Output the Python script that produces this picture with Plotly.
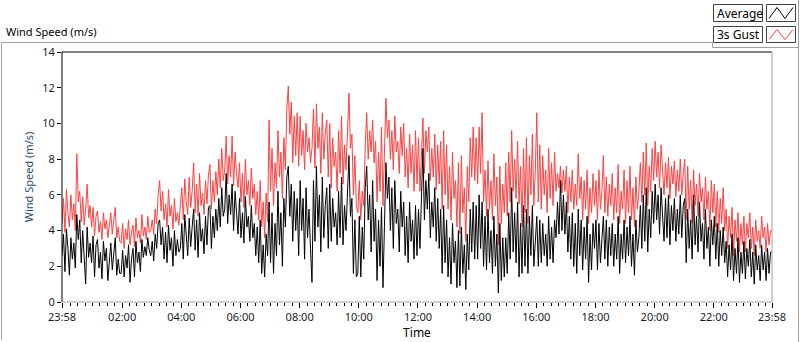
import pandas as pd
import plotly.graph_objects as go

# ---- data (3-minute samples from 23:58 to 23:58 next day) ----
start_time = "2020-01-01 23:58"
end_time = "2020-01-02 23:58"
step_minutes = 3

gust_values = [
    4.4, 5.8, 3.9, 6.3, 5.0, 4.2, 6.0, 4.6, 5.5, 4.0, 8.3, 5.6, 6.2, 4.5, 5.9, 4.3, 5.2, 6.6, 4.7, 5.4,
    4.2, 5.3, 3.7, 4.8, 5.1, 3.9, 4.5, 3.5, 5.0, 4.1, 4.6, 3.6, 4.3, 5.0, 3.8, 4.4, 5.3, 3.6, 4.2, 3.4,
    3.3, 4.4, 3.0, 4.1, 3.5, 4.6, 3.2, 3.9, 4.3, 3.1, 4.7, 3.6, 4.0, 3.3, 4.9, 3.7, 4.2, 3.5, 4.8, 3.9,
    4.0, 4.6, 3.8, 5.2, 4.4, 6.0, 6.8, 5.1, 6.2, 4.6, 5.5, 4.2, 6.3, 4.8, 5.4, 4.1, 5.8, 4.5, 5.0, 4.3,
    5.2, 6.4, 4.6, 6.9, 5.6, 4.9, 7.0, 5.3, 6.2, 7.8, 5.0, 6.6, 4.8, 7.2, 5.4, 6.1, 4.9, 6.8, 5.5, 7.1,
    7.7, 5.2, 6.8, 5.6, 7.3, 6.0, 8.0, 6.4, 8.6, 6.8, 7.4, 9.3, 6.6, 8.2, 7.0, 9.3, 6.5, 8.4, 7.2, 6.4,
    7.8, 5.6, 7.2, 5.3, 8.0, 6.0, 6.8, 5.4, 7.5, 5.8, 6.6, 4.9, 6.2, 4.6, 6.8, 4.2, 5.6, 3.6, 6.1, 4.5,
    10.2, 6.2, 8.6, 5.4, 7.8, 6.4, 9.6, 7.0, 8.4, 5.8, 9.2, 7.4, 10.8, 12.1, 9.4, 11.2, 7.8, 10.4, 8.2, 10.6,
    7.6, 10.4, 8.2, 9.6, 7.4, 10.0, 8.4, 9.2, 7.8, 8.6, 10.8, 7.5, 11.1, 8.6, 9.8, 7.2, 10.6, 8.0, 9.4, 10.2,
    7.0, 10.0, 6.4, 9.2, 7.6, 8.4, 6.2, 9.6, 7.2, 10.4, 6.6, 8.8, 7.4, 9.8, 11.7, 8.6, 9.4, 6.0, 8.2, 5.4,
    5.0, 6.8, 4.6, 6.2, 5.4, 8.8, 10.6, 8.0, 9.6, 8.4, 10.2, 7.8, 9.0, 5.6, 8.4, 6.2, 9.8, 5.4, 8.8, 11.4,
    9.2, 10.2, 8.0, 9.6, 7.4, 10.4, 8.4, 9.0, 7.2, 9.8, 8.2, 10.0, 7.0, 8.6, 6.4, 9.4, 7.2, 8.8, 6.2, 9.6,
    6.6, 9.2, 6.2, 8.8, 10.3, 7.2, 9.6, 8.4, 9.8, 6.8, 8.6, 7.0, 9.4, 6.3, 8.8, 6.6, 9.0, 5.2, 9.6, 6.0,
    8.8, 5.2, 7.6, 4.6, 8.4, 5.8, 6.8, 4.2, 7.8, 3.8, 8.2, 5.0, 6.4, 3.4, 7.6, 5.6, 9.2, 7.0, 9.8, 6.8,
    9.2, 6.6, 9.8, 7.2, 10.6, 5.6, 7.4, 4.8, 7.9, 5.2, 6.8, 4.6, 8.3, 5.4, 7.0, 3.2, 7.6, 4.4, 6.6, 5.0,
    7.8, 4.8, 8.4, 5.6, 9.6, 6.2, 8.0, 5.8, 9.0, 5.5, 7.6, 4.2, 8.6, 5.0, 9.2, 4.4, 8.2, 6.0, 9.4, 5.4,
    7.4, 10.6, 5.6, 8.8, 5.2, 8.2, 6.0, 7.4, 5.0, 8.6, 5.8, 7.8, 5.4, 8.4, 6.2, 7.2, 6.4, 7.6, 6.1, 7.4,
    6.2, 7.6, 5.0, 7.0, 5.6, 7.4, 5.2, 6.6, 5.4, 8.3, 5.8, 7.0, 4.6, 6.8, 5.2, 7.4, 4.4, 6.4, 5.0, 7.2,
    5.4, 6.8, 4.6, 7.4, 5.2, 6.2, 8.2, 5.0, 7.0, 4.8, 6.6, 5.4, 7.2, 4.6, 6.4, 5.0, 7.7, 4.4, 6.2, 5.2,
    7.4, 4.4, 6.8, 5.0, 7.6, 4.6, 6.4, 4.2, 7.0, 5.2, 6.2, 7.8, 5.6, 8.4, 6.0, 8.9, 5.4, 7.6, 6.2, 8.6,
    6.8, 9.0, 7.0, 8.4, 6.4, 8.8, 7.2, 6.0, 7.8, 6.4, 8.1, 5.8, 7.6, 6.6, 7.9, 5.9, 7.4, 6.2, 8.0, 6.0,
    7.2, 8.0, 4.6, 7.6, 5.2, 6.8, 4.4, 7.4, 5.4, 6.6, 4.8, 7.2, 5.6, 6.4, 4.6, 7.0, 5.2, 6.2, 4.0, 6.8,
    5.0, 6.6, 4.2, 6.2, 3.9, 5.8, 4.4, 6.4, 4.0, 5.2, 3.0, 4.8, 3.6, 5.3, 2.6, 4.6, 3.4, 5.0, 2.8, 4.4,
    3.2, 4.8, 2.8, 4.4, 3.6, 5.0, 3.0, 4.2, 2.6, 4.6, 3.4, 4.0, 3.0, 4.8, 3.6, 4.2, 2.8, 4.4, 3.2, 4.0,
    4.0,
]

average_values = [
    2.6, 3.8, 1.7, 4.1, 3.0, 1.5, 3.6, 2.4, 3.3, 1.9, 4.9, 3.5, 4.6, 2.2, 4.0, 2.8, 1.0, 4.2, 2.5, 3.3,
    2.2, 3.7, 1.4, 3.2, 3.5, 1.9, 2.8, 1.3, 3.4, 2.3, 3.0, 1.2, 2.6, 3.3, 1.8, 2.7, 3.6, 1.5, 2.4, 1.6,
    1.6, 2.9, 1.4, 2.6, 1.9, 3.2, 1.1, 2.4, 3.0, 1.4, 3.4, 2.2, 2.8, 1.7, 3.5, 2.5, 3.1, 2.6, 3.6, 2.9,
    2.6, 3.4, 2.3, 3.8, 3.0, 4.4, 4.6, 3.2, 4.2, 2.4, 3.9, 2.2, 4.3, 2.9, 3.6, 2.0, 4.0, 2.6, 3.5, 2.8,
    3.0, 4.4, 2.4, 4.9, 3.5, 2.6, 4.7, 3.1, 4.2, 5.2, 2.9, 4.6, 2.5, 5.0, 3.4, 4.1, 2.7, 4.8, 3.2, 5.3,
    5.4, 3.0, 4.8, 3.6, 5.2, 4.0, 5.8, 4.2, 6.4, 4.8, 5.2, 7.2, 4.4, 6.0, 4.9, 6.6, 4.0, 6.2, 5.0, 3.8,
    5.8, 3.6, 5.0, 3.3, 5.9, 4.2, 4.8, 3.4, 5.4, 3.6, 4.4, 2.6, 4.2, 2.2, 4.6, 1.6, 3.2, 1.4, 3.8, 2.6,
    5.6, 2.2, 5.0, 1.6, 4.4, 2.6, 6.2, 3.2, 5.0, 2.0, 5.8, 4.2, 7.0, 7.6, 4.8, 6.6, 3.4, 6.2, 4.0, 5.8,
    2.6, 6.8, 4.0, 5.8, 2.4, 6.4, 3.6, 5.2, 3.0, 1.1, 6.8, 3.4, 7.6, 4.2, 6.0, 2.8, 7.0, 3.6, 5.4, 6.4,
    3.0, 6.6, 3.4, 5.8, 4.2, 5.0, 3.2, 6.2, 3.6, 7.0, 3.2, 5.4, 4.0, 6.6, 8.2, 4.8, 5.8, 1.6, 4.6, 1.4,
    1.6, 4.8, 1.4, 4.2, 2.4, 6.4, 7.6, 4.6, 6.0, 2.8, 6.8, 3.4, 5.2, 1.2, 4.6, 2.0, 5.3, 0.8, 4.2, 7.8,
    5.8, 7.0, 4.0, 6.4, 3.0, 6.8, 4.4, 5.2, 2.8, 6.2, 4.2, 5.6, 2.6, 4.8, 2.2, 5.6, 3.4, 4.6, 2.4, 5.4,
    2.6, 5.2, 3.0, 5.8, 8.6, 4.6, 6.8, 5.2, 7.2, 3.6, 5.6, 4.2, 6.4, 3.4, 5.8, 3.0, 5.2, 1.6, 5.4, 2.2,
    4.6, 1.4, 3.6, 1.0, 4.4, 2.2, 3.4, 0.8, 4.0, 0.9, 4.2, 1.6, 3.2, 0.7, 3.8, 1.8, 5.2, 2.8, 5.6, 2.4,
    5.4, 2.4, 6.0, 3.0, 5.6, 2.0, 4.8, 1.8, 5.2, 2.2, 4.0, 1.6, 4.8, 2.0, 3.8, 0.5, 4.4, 1.2, 3.6, 1.4,
    3.6, 1.6, 5.0, 2.4, 6.4, 2.8, 5.0, 2.2, 5.6, 1.4, 4.4, 1.6, 5.4, 2.0, 5.2, 1.6, 4.8, 2.6, 5.4, 2.0,
    3.4, 4.8, 2.0, 4.6, 2.2, 4.4, 2.6, 3.8, 2.0, 4.8, 2.4, 4.2, 2.2, 4.6, 3.6, 5.6, 3.8, 6.8, 4.0, 6.0,
    3.8, 5.6, 2.8, 4.8, 2.4, 5.0, 2.0, 4.4, 1.6, 5.2, 2.6, 4.6, 1.8, 4.2, 2.4, 4.8, 1.1, 3.8, 1.8, 4.4,
    3.0, 4.6, 1.8, 4.4, 2.2, 3.6, 4.8, 2.4, 4.6, 2.0, 4.2, 2.6, 4.4, 2.0, 3.8, 2.4, 4.8, 1.6, 3.8, 2.4,
    4.6, 2.2, 4.2, 2.6, 4.8, 2.0, 3.8, 1.5, 4.6, 2.8, 3.6, 5.4, 3.0, 6.0, 3.4, 6.4, 2.8, 5.2, 3.6, 6.2,
    4.4, 6.6, 4.6, 6.0, 3.8, 6.4, 4.8, 3.4, 5.8, 3.6, 6.0, 3.2, 5.4, 4.0, 5.8, 3.4, 5.2, 3.8, 6.0, 3.6,
    5.4, 5.8, 2.2, 5.2, 3.0, 4.6, 2.4, 6.0, 3.2, 4.8, 2.8, 5.6, 3.4, 4.4, 2.4, 5.2, 3.0, 4.2, 2.0, 4.6,
    3.2, 4.8, 2.4, 4.4, 2.0, 4.0, 2.6, 4.2, 2.2, 3.4, 1.4, 3.2, 1.8, 3.8, 1.2, 3.0, 1.6, 3.6, 1.1, 2.8,
    1.6, 3.4, 1.3, 3.0, 2.0, 3.5, 1.4, 2.8, 1.0, 3.2, 1.8, 2.6, 1.2, 3.2, 1.8, 2.8, 1.2, 3.0, 1.6, 2.8,
    2.8,
]

tick_times = [
    "2020-01-01 23:58", "2020-01-02 02:00", "2020-01-02 04:00", "2020-01-02 06:00",
    "2020-01-02 08:00", "2020-01-02 10:00", "2020-01-02 12:00", "2020-01-02 14:00",
    "2020-01-02 16:00", "2020-01-02 18:00", "2020-01-02 20:00", "2020-01-02 22:00",
    "2020-01-02 23:58",
]
tick_labels = ["23:58", "02:00", "04:00", "06:00", "08:00", "10:00", "12:00",
               "14:00", "16:00", "18:00", "20:00", "22:00", "23:58"]
y_ticks = [0, 2, 4, 6, 8, 10, 12, 14]

times = pd.date_range(start=start_time, periods=len(gust_values), freq=f"{step_minutes}min")

# ---- layout geometry (pixels) ----
W, H = 800, 342
L, R, T, B = 62, 772, 52, 302


def fx(px):
    return (px - L) / (R - L)


def fy(py):
    return (B - py) / (B - T)


FONT = "Noto Sans"
GRAY = "#a0a0a0"

fig = go.Figure()
fig.add_trace(go.Scatter(x=times, y=gust_values, mode="lines", name="3s Gust",
                         line=dict(color="#ff4040", width=1), showlegend=False))
fig.add_trace(go.Scatter(x=times, y=average_values, mode="lines", name="Average",
                         line=dict(color="#000000", width=1), showlegend=False))

shapes = []
# plot frame: top & left black, right & bottom gray
shapes.append(dict(type="line", xref="paper", yref="paper", x0=fx(L), x1=fx(R), y0=fy(T), y1=fy(T),
                   line=dict(color="#000000", width=1)))
shapes.append(dict(type="line", xref="paper", yref="paper", x0=fx(L), x1=fx(L), y0=fy(T), y1=fy(B),
                   line=dict(color="#000000", width=1)))
shapes.append(dict(type="line", xref="paper", yref="paper", x0=fx(R), x1=fx(R), y0=fy(T), y1=fy(B),
                   line=dict(color=GRAY, width=1)))
shapes.append(dict(type="line", xref="paper", yref="paper", x0=fx(L), x1=fx(R), y0=fy(B), y1=fy(B),
                   line=dict(color=GRAY, width=1)))
# outer frame
outer = (f"M {fx(1.5)} {fy(340)} L {fx(1.5)} {fy(42.5)} L {fx(712.5)} {fy(42.5)} "
         f"L {fx(712.5)} {fy(47.5)} L {fx(798.5)} {fy(47.5)}")
shapes.append(dict(type="path", xref="paper", yref="paper", path=outer, line=dict(color=GRAY, width=1)))
shapes.append(dict(type="line", xref="paper", yref="paper", x0=fx(798.5), x1=fx(798.5), y0=fy(0), y1=fy(342),
                   line=dict(color=GRAY, width=1)))

# legend boxes
legend_items = [("Average", "#000000", 4.5, 21.5), ("3s Gust", "#ff4040", 26.5, 42.5)]
annotations = []
for name, col, y0, y1 in legend_items:
    shapes.append(dict(type="rect", xref="paper", yref="paper", x0=fx(713.5), x1=fx(762.5), y0=fy(y0), y1=fy(y1),
                       line=dict(color="#404040", width=1), fillcolor="#ffffff"))
    shapes.append(dict(type="rect", xref="paper", yref="paper", x0=fx(766.5), x1=fx(795.5), y0=fy(y0), y1=fy(y1),
                       line=dict(color="#404040", width=1), fillcolor="#ffffff"))
    zy_top, zy_bot = y0 + 3, y1 - 3
    zz = (f"M {fx(769)} {fy(zy_bot)} L {fx(777)} {fy(zy_top)} L {fx(785)} {fy(zy_bot)} "
          f"L {fx(793)} {fy(zy_top)}")
    shapes.append(dict(type="path", xref="paper", yref="paper", path=zz, line=dict(color=col, width=1)))
    annotations.append(dict(text=name, xref="paper", yref="paper", x=fx(715), y=fy((y0 + y1) / 2),
                            xanchor="left", yanchor="middle", showarrow=False,
                            font=dict(family=FONT, size=12, color="#000000")))

annotations.append(dict(text="Wind Speed (m/s)", xref="paper", yref="paper", x=fx(4), y=fy(32),
                        xanchor="left", yanchor="middle", showarrow=False,
                        font=dict(family=FONT, size=11, color="#000000")))

fig.update_layout(
    width=W, height=H,
    margin=dict(l=L, r=W - R, t=T, b=H - B, pad=0, autoexpand=False),
    paper_bgcolor="#ffffff", plot_bgcolor="#ffffff",
    font=dict(family=FONT, size=11, color="#1a1a2a"),
    shapes=shapes, annotations=annotations,
    showlegend=False,
)
fig.update_xaxes(
    type="date", automargin=False,
    range=[pd.Timestamp(start_time), pd.Timestamp(end_time)],
    tickmode="array", tickvals=[pd.Timestamp(t) for t in tick_times], ticktext=tick_labels,
    ticks="outside", ticklen=5, tickcolor="#000000", tickwidth=1,
    minor=dict(ticks="outside", ticklen=3, tickcolor="#000000", dtick=15 * 60 * 1000,
               tick0="2020-01-02 00:00", showgrid=False),
    showgrid=False, zeroline=False, showline=False,
    tickfont=dict(family=FONT, size=11, color="#1a1a2a"),
    title=dict(text="Time", font=dict(family=FONT, size=12, color="#000000"), standoff=3),
)
fig.update_yaxes(
    range=[0, 14], tickmode="array", tickvals=y_ticks, automargin=False,
    ticks="outside", ticklen=4, tickcolor="#000000", tickwidth=1,
    showgrid=False, zeroline=False, showline=False,
    tickfont=dict(family=FONT, size=11, color="#1a1a2a"),
    title=dict(text="Wind Speed (m/s)", font=dict(family=FONT, size=11, color="#2b4a6b"), standoff=6),
)

fig.write_html("out.html", config={"displayModeBar": False},
               post_script="document.body.style.margin='0';document.body.style.overflow='hidden';")
